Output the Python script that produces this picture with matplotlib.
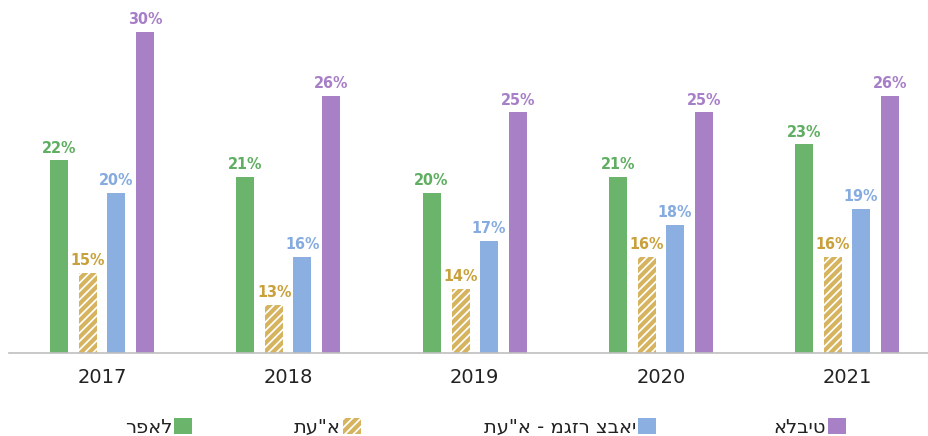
import matplotlib
matplotlib.use("Agg")
import matplotlib.pyplot as plt
from matplotlib.patches import Patch
import numpy as np

years = ["2017", "2018", "2019", "2020", "2021"]
series_names = ["רפאל", "תע\"א", "תע\"א - מגזר צבאי", "אלביט"]
rafael = [22, 21, 20, 21, 23]
iai = [15, 13, 14, 16, 16]
iai_mil = [20, 16, 17, 18, 19]
elbit = [30, 26, 25, 25, 26]

colors = ["#6ab46b", "#d6b45f", "#8aafe0", "#a880c6"]
label_colors = ["#5fae61", "#c9a13c", "#86abe0", "#a77fc8"]

plt.rcParams['hatch.linewidth'] = 3.0

fig = plt.figure(figsize=(9.29, 4.36), dpi=100)
ax = fig.add_axes([9 / 929, 83 / 436, 920 / 929, 353 / 436])

x = np.arange(len(years))
offsets = [-0.231, -0.075, 0.075, 0.231]
width = 0.097
data = [rafael, iai, iai_mil, elbit]

label_font = dict(family="DejaVu Sans", fontstretch="condensed", fontweight="bold", fontsize=11.5)

for i, vals in enumerate(data):
    if i == 1:
        bars = ax.bar(x + offsets[i], vals, width, facecolor="white",
                      edgecolor=colors[i], hatch="////", linewidth=0)
    else:
        bars = ax.bar(x + offsets[i], vals, width, color=colors[i], linewidth=0)
    for b, v in zip(bars, vals):
        ax.text(b.get_x() + b.get_width() / 2, v + 0.3, f"{v}%", ha="center", va="bottom",
                color=label_colors[i], **label_font)

ax.set_ylim(10, 32)
ax.set_xlim(-0.5, -0.5 + 920 / 186.25)
for s in ["top", "right", "left"]:
    ax.spines[s].set_visible(False)
ax.spines["bottom"].set_color("#bfbfbf")
ax.spines["bottom"].set_linewidth(1.2)
ax.set_yticks([])
ax.set_xticks(x)
ax.set_xticklabels(years, fontsize=14, color="#222222")
ax.tick_params(axis="x", length=0, pad=11)

right_edges = [186, 355, 650, 840]
for i, name in enumerate(series_names):
    if i == 1:
        h = Patch(facecolor="white", edgecolor=colors[i], hatch="////", linewidth=0)
    else:
        h = Patch(facecolor=colors[i], linewidth=0)
    leg = fig.legend([h], [name], loc="center right",
                     bbox_to_anchor=(right_edges[i] / 929 + 0.006, 9 / 436),
                     frameon=False, markerfirst=False, handlelength=0.9, handleheight=0.9,
                     handletextpad=0.1, fontsize=14, borderpad=0, borderaxespad=0)
    for t in leg.get_texts():
        t.set_color("#222222")

fig.savefig("out.png", dpi=100)
